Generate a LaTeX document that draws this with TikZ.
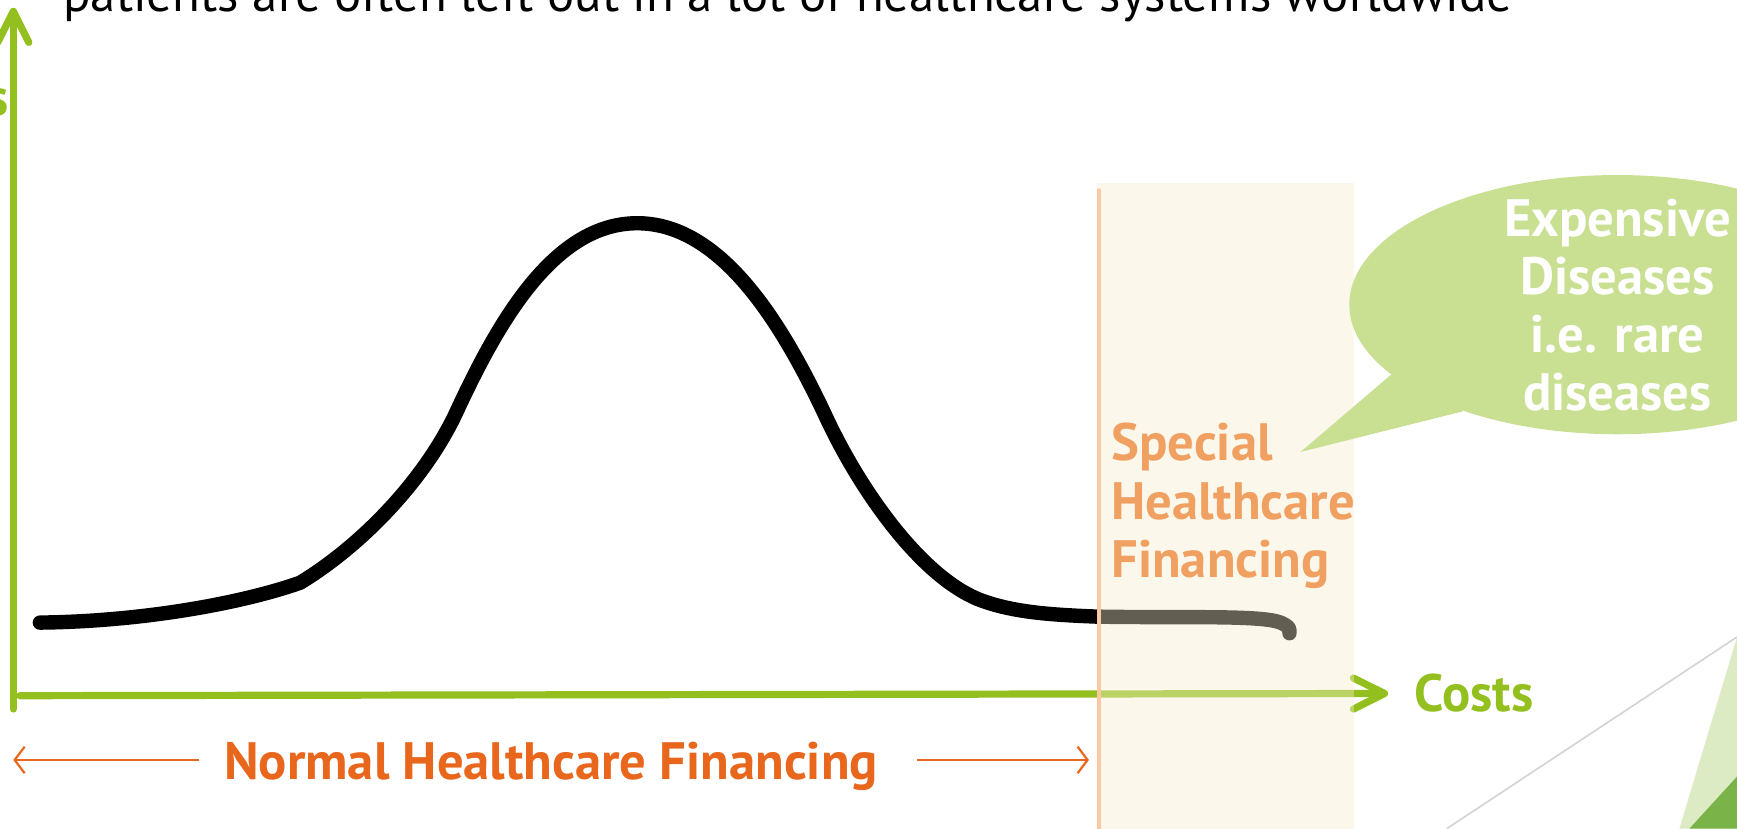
\documentclass[tikz,border=0pt]{standalone}
\usepackage{fontspec}
\setmainfont{PT Sans}
\usetikzlibrary{arrows.meta}
\definecolor{axisgreen}{HTML}{93C01F}
\definecolor{darkorange}{HTML}{E8671C}
\definecolor{lightorange}{HTML}{F0A060}
\definecolor{bandline}{HTML}{FAC9A4}
\definecolor{bandfill}{HTML}{F7EDCD}
\definecolor{bubblegreen}{HTML}{C9E093}
\definecolor{trilight}{HTML}{DDEBC5}
\definecolor{tridark}{HTML}{7AB448}
\definecolor{grayline}{HTML}{D4D4D4}
\begin{document}
\begin{tikzpicture}[x=1pt,y=-1pt,
  lbl/.style={inner sep=0pt, font=\fontsize{47.5}{52.5}\selectfont\bfseries},
  axisline/.style={draw=axisgreen, line width=6.5pt, line cap=round, line join=round,
     -{Straight Barb[length=28pt,width=28pt,line cap=round,line join=round]}},
  spanarrow/.style={draw=darkorange, line width=2pt, -{Straight Barb[length=9pt,width=24pt]}},
  curveline/.style={draw=black, line width=13pt, line cap=round, line join=round}]
\useasboundingbox (0,0) rectangle (1568,748);
\fill[white] (0,0) rectangle (1568,748);

% decorative corner
\fill[trilight] (1568,575) -- (1516,748) -- (1568,748) -- cycle;
\fill[tridark] (1568,701) -- (1525,748) -- (1568,748) -- cycle;
\coordinate (gA) at (1306,748);
\coordinate (gB) at (1568,575);
\draw[grayline, line width=1.5pt] (gA) -- (gB);

% title line (cut at the top)
\node[inner sep=0pt, anchor=base west] (title) at (57,10.5)
  {\resizebox{1308pt}{!}{patients are often left out in a lot of healthcare systems worldwide}};

% axes
\coordinate (ybot) at (12,640);
\coordinate (ytop) at (12,7);
\coordinate (xleft) at (18,628);
\coordinate (xright) at (1253,626);
\draw[axisline] (ybot) -- (ytop);
\draw[axisline] (xleft) -- (xright);
\node[lbl, text=axisgreen, anchor=base east] (ylabel) at (8.5,104) {s};
\node[lbl, text=axisgreen, anchor=base west] (costs) at (1277,642) {Costs};

% distribution curve
\coordinate (c0) at (36,562);
\coordinate (c1) at (271,526);
\coordinate (c2) at (412,372);
\coordinate (c3) at (574.6,201.5);
\coordinate (c4) at (745,375);
\coordinate (c5) at (884.5,541.5);
\coordinate (c6) at (990,556.6);
\coordinate (c7) at (1156,562);
\coordinate (c8) at (1164,571.6);
\draw[curveline] (c0) .. controls (130,561) and (220,544) .. (c1)
  .. controls (330,490) and (385,430) .. (c2)
  .. controls (450,290) and (500,202) .. (c3)
  .. controls (650,201) and (705,290) .. (c4)
  .. controls (775,440) and (830,520) .. (c5)
  .. controls (915,553) and (950,555) .. (c6)
  .. controls (1070,558) and (1138,555) .. (c7)
  .. controls (1164,566) .. (c8);

% special financing band
\fill[bandfill, fill opacity=0.4] (990,165) rectangle (1222,748);
\coordinate (bandtop) at (992,172);
\coordinate (bandbot) at (992,748);
\draw[bandline, line width=4pt, line cap=round] (bandtop) -- (bandbot);

% speech bubble
\fill[bubblegreen] (1460,275) ellipse [x radius=242, y radius=117];
\fill[bubblegreen] (1256,338) -- (1174,408) -- (1320,371.5) -- (1320,320) -- cycle;
\node[lbl, text=white, align=center, anchor=base] (bubbletext) at (1460,371)
  {Expensive\\Diseases\\i.e. rare\\diseases};

\node[lbl, text=lightorange, align=left, anchor=base west] (special) at (1003,521)
  {Special\\Healthcare\\Financing};

% normal financing span
\node[lbl, text=darkorange, anchor=base] (normal) at (497.5,704) {Normal Healthcare Financing};
\coordinate (leftstart) at (180,686);
\coordinate (leftend) at (12,686);
\coordinate (rightstart) at (828,686);
\coordinate (rightend) at (983,686);
\draw[spanarrow] (leftstart) -- (leftend);
\draw[spanarrow] (rightstart) -- (rightend);
\end{tikzpicture}
\end{document}
